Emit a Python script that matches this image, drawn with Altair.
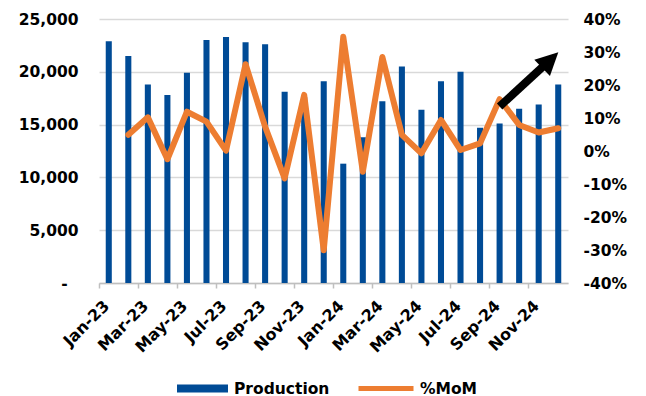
import altair as alt
import pandas as pd

# Monthly production (left axis) and month-on-month change in % (right axis)
months = [
    "Jan-23", "Feb-23", "Mar-23", "Apr-23", "May-23", "Jun-23",
    "Jul-23", "Aug-23", "Sep-23", "Oct-23", "Nov-23", "Dec-23",
    "Jan-24", "Feb-24", "Mar-24", "Apr-24", "May-24", "Jun-24",
    "Jul-24", "Aug-24", "Sep-24", "Oct-24", "Nov-24", "Dec-24",
]
production = [
    22900, 21500, 18800, 17800, 19900, 23000,
    23300, 22800, 22600, 18100, 17600, 19100,
    11300, 13800, 17200, 20500, 16400, 19100,
    20000, 14700, 15100, 16500, 16900, 18800,
]
mom_pct = [
    None, 4.9, 10.2, -2.5, 11.9, 8.9,
    0.1, 26.3, 7.4, -8.3, 17.0, -30.1,
    34.6, -6.3, 28.5, 4.9, -0.7, 9.4,
    0.3, 2.3, 15.7, 7.9, 5.6, 6.9,
]
label_months = months[::2]
production_ticks = [0, 5000, 10000, 15000, 20000, 25000]
mom_ticks = [-0.4, -0.3, -0.2, -0.1, 0.0, 0.1, 0.2, 0.3, 0.4]

# Trend arrow drawn on the %MoM scale
arrow_from = ("Sep-24", 0.135)
arrow_to = ("Dec-24", 0.30)

BLUE = "#004B96"
ORANGE = "#ED7D31"
GRID = "#D9D9D9"
AXIS_GREY = "#BFBFBF"
FONT = "DejaVu Sans"

df = pd.DataFrame({
    "month": months,
    "production": production,
    "mom": [None if v is None else v / 100 for v in mom_pct],
})
df["bar_series"] = "Production"
df["line_series"] = "%MoM"

arrow = pd.DataFrame({
    "m1": [arrow_from[0]], "v1": [arrow_from[1]],
    "m2": [arrow_to[0]], "v2": [arrow_to[1]],
})

x_scale = alt.Scale(domain=months, paddingInner=0, paddingOuter=0)
mom_scale = alt.Scale(domain=[-0.4, 0.4], nice=False)

x_axis = alt.Axis(
    title=None, values=label_months, bandPosition=0, labelOffset=-2,
    labelAngle=-45, labelAlign="right", labelBaseline="middle",
    labelFontSize=16, labelPadding=15, ticks=True, tickSize=5,
    tickColor=AXIS_GREY, tickWidth=1.5, domainColor=AXIS_GREY,
    domainWidth=1.5, grid=False,
)
# zero is shown as an accounting-style dash, padded on the right
left_axis = alt.Axis(
    title=None, orient="left", values=production_ticks,
    labelExpr="datum.value == 0 ? '-\u00a0\u00a0\u200b' : format(datum.value, ',')",
    ticks=False, tickSize=0, domain=False, grid=True, gridColor=GRID,
    gridWidth=1.5, labelPadding=21, labelFontSize=15.5,
)
right_axis = alt.Axis(
    title=None, orient="right", values=mom_ticks,
    labelExpr="(datum.value < -0.0001 ? '-' : '') + format(abs(datum.value), '.0%')",
    ticks=False, tickSize=0, domain=False, grid=False,
    labelPadding=15, labelFontSize=15.5,
)

legend_common = dict(
    title=None, orient="none", labelFont=FONT, labelFontSize=15.5,
    labelFontWeight="bold", labelColor="black", padding=0,
)

bars = alt.Chart(df).mark_bar(width={"band": 0.31}).encode(
    x=alt.X("month:N", scale=x_scale, axis=x_axis),
    y=alt.Y("production:Q", scale=alt.Scale(domain=[0, 25000], nice=False),
            axis=left_axis),
    color=alt.Color(
        "bar_series:N",
        scale=alt.Scale(domain=["Production"], range=[BLUE]),
        legend=alt.Legend(
            legendX=78, legendY=344,
            symbolType="M-1,-0.16L1,-0.16L1,0.16L-1,0.16Z",
            symbolSize=2601, symbolStrokeWidth=0, labelOffset=6,
            **legend_common,
        ),
    ),
)

line = alt.Chart(df).mark_line(
    strokeWidth=6, strokeJoin="round", strokeCap="round"
).encode(
    x=alt.X("month:N", scale=x_scale, axis=x_axis),
    y=alt.Y("mom:Q", scale=mom_scale, axis=right_axis),
    stroke=alt.Stroke(
        "line_series:N",
        scale=alt.Scale(domain=["%MoM"], range=[ORANGE]),
        legend=alt.Legend(
            legendX=257, legendY=339.5, symbolType="stroke",
            symbolSize=3025, symbolStrokeWidth=5, labelOffset=4,
            **legend_common,
        ),
    ),
)

shaft = alt.Chart(arrow).mark_rule(
    strokeWidth=8, color="black", x2Offset=-13, y2Offset=12.5
).encode(
    x=alt.X("m1:N", scale=x_scale, axis=x_axis),
    x2="m2:N",
    y=alt.Y("v1:Q", scale=mom_scale, axis=right_axis),
    y2="v2:Q",
)

head = alt.Chart(arrow).mark_point(
    shape="M0,-1L-1,1L1,1Z", size=506, angle=46, filled=True,
    color="black", opacity=1, xOffset=-8, yOffset=8,
).encode(
    x=alt.X("m2:N", scale=x_scale, axis=x_axis),
    y=alt.Y("v2:Q", scale=mom_scale, axis=right_axis),
)

chart = (
    alt.layer(bars, alt.layer(line, shaft, head))
    .resolve_scale(y="independent")
    .properties(
        width=469, height=264,
        autosize=alt.AutoSizeParams(type="none"),
        padding={"left": 99, "top": 19, "right": 78, "bottom": 113},
    )
    .configure_view(stroke=None)
    .configure_axis(labelFont=FONT, labelFontWeight="bold", labelColor="black")
)

chart.save("out.html", embed_options={"renderer": "svg", "actions": False})
